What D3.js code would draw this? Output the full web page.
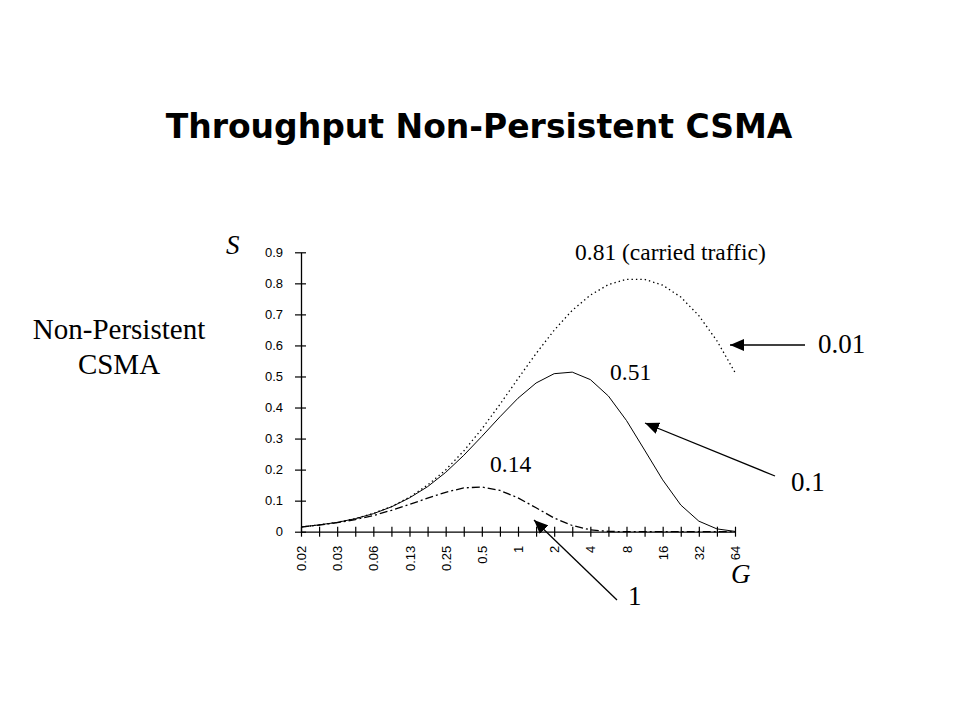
<!DOCTYPE html>
<html>
<head>
<meta charset="utf-8">
<script src="https://cdn.jsdelivr.net/npm/d3@7"></script>
<style>
  html, body { margin: 0; padding: 0; background: #fff; }
  svg { display: block; }
</style>
</head>
<body>
<svg id="chart" width="960" height="720"></svg>
<script>
// ---- Data ----
const offeredLoad = [0.0156, 0.0221, 0.0313, 0.0442, 0.0625, 0.0884, 0.125, 0.177, 0.25, 0.354, 0.5, 0.707, 1, 1.41, 2, 2.83, 4, 5.66, 8, 11.3, 16, 22.6, 32, 45.3, 64];
const tickLabels = ["0.02", "", "0.03", "", "0.06", "", "0.13", "", "0.25", "", "0.5", "", "1", "", "2", "", "4", "", "8", "", "16", "", "32", "", "64"];
const yTicks = [0, 0.1, 0.2, 0.3, 0.4, 0.5, 0.6, 0.7, 0.8, 0.9];

const sA001 = [0.015, 0.022, 0.030, 0.042, 0.059, 0.081, 0.111, 0.150, 0.199, 0.260, 0.331, 0.410, 0.493, 0.574, 0.649, 0.713, 0.762, 0.796, 0.813, 0.813, 0.794, 0.756, 0.696, 0.615, 0.513];
const sA01  = [0.015, 0.022, 0.030, 0.042, 0.058, 0.080, 0.109, 0.145, 0.191, 0.246, 0.307, 0.370, 0.430, 0.479, 0.509, 0.514, 0.490, 0.437, 0.358, 0.263, 0.167, 0.086, 0.034, 0.009, 0.001];
const sA1   = [0.015, 0.021, 0.029, 0.039, 0.052, 0.069, 0.088, 0.108, 0.127, 0.141, 0.144, 0.133, 0.109, 0.077, 0.044, 0.020, 0.006, 0.001, 0, 0, 0, 0, 0, 0, 0];

const seriesNames = ["0.01", "0.1", "1"];
const peakLabels = ["0.81 (carried traffic)", "0.51", "0.14"];

// ---- Drawing ----
const svg = d3.select("#chart");
svg.append("rect").attr("width", 960).attr("height", 720).attr("fill", "#fff");

const x = d3.scalePoint().domain(d3.range(offeredLoad.length)).range([301, 735]);
const y = d3.scaleLinear().domain([0, 0.9]).range([531.7, 252.3]);

// Title
svg.append("text")
  .attr("x", 479).attr("y", 138)
  .attr("text-anchor", "middle")
  .attr("font-family", "DejaVu Sans, Verdana, sans-serif")
  .attr("font-weight", "bold")
  .attr("font-size", 33)
  .text("Throughput Non-Persistent CSMA");

// Y axis
const yAxis = d3.axisLeft(y).tickValues(yTicks).tickSizeInner(6).tickSizeOuter(0).tickPadding(12)
  .tickFormat(d => d === 0 ? "0" : d3.format(".1f")(d));
const gy = svg.append("g").attr("transform", "translate(301,0)").call(yAxis);
gy.select(".domain").attr("stroke", "#000").attr("stroke-width", 1.3);
gy.selectAll(".tick line").attr("x1", -6).attr("x2", 5).attr("stroke", "#000").attr("stroke-width", 1.2);
gy.selectAll(".tick text")
  .attr("font-family", "Liberation Sans, Arial, sans-serif")
  .attr("font-size", 13).attr("fill", "#000")
  .attr("x", -18);

// X axis
const xAxis = d3.axisBottom(x).tickSizeInner(5).tickSizeOuter(0)
  .tickFormat(i => tickLabels[i]);
const gx = svg.append("g").attr("transform", `translate(0,${y(0)})`).call(xAxis);
gx.select(".domain").attr("stroke", "#000").attr("stroke-width", 1.3);
gx.selectAll(".tick line").attr("y1", -5).attr("y2", 5).attr("stroke", "#000").attr("stroke-width", 1.2);
gx.selectAll(".tick text")
  .attr("font-family", "Liberation Sans, Arial, sans-serif")
  .attr("font-size", 13).attr("fill", "#000")
  .attr("transform", "rotate(-90)")
  .attr("text-anchor", "end")
  .attr("dy", "0.35em")
  .attr("x", -14).attr("y", 0);

// Lines
const line = d3.line().x((d, i) => x(i)).y(d => y(d));
const allSeries = [sA001, sA01, sA1];
const dashes = ["1.4,3", null, "8,3,2,3"];
allSeries.forEach((s, k) => {
  svg.append("path")
    .datum(s)
    .attr("d", line)
    .attr("fill", "none")
    .attr("stroke", "#000")
    .attr("stroke-width", k === 1 ? 1 : 1.3)
    .attr("stroke-dasharray", dashes[k]);
});

// Axis titles
svg.append("text").attr("x", 226).attr("y", 254)
  .attr("font-family", "Liberation Serif, Times New Roman, serif")
  .attr("font-style", "italic").attr("font-size", 27).text("S");
svg.append("text").attr("x", 731).attr("y", 583)
  .attr("font-family", "Liberation Serif, Times New Roman, serif")
  .attr("font-style", "italic").attr("font-size", 27).text("G");

// Side label
const side = svg.append("text")
  .attr("font-family", "Liberation Serif, Times New Roman, serif")
  .attr("font-size", 29).attr("text-anchor", "middle");
side.append("tspan").attr("x", 119).attr("y", 339).text("Non-Persistent");
side.append("tspan").attr("x", 119).attr("y", 374).text("CSMA");

// Peak labels
const serif = "Liberation Serif, Times New Roman, serif";
const peakPos = [[575, 260], [610, 380], [490, 472]];
peakLabels.forEach((t, k) => {
  svg.append("text").attr("x", peakPos[k][0]).attr("y", peakPos[k][1])
    .attr("font-family", serif).attr("font-size", 23.5).text(t);
});

// Series-name labels with arrows
const defs = svg.append("defs");
defs.append("marker")
  .attr("id", "ah").attr("markerUnits", "userSpaceOnUse")
  .attr("viewBox", "0 0 14 12").attr("refX", 14).attr("refY", 6)
  .attr("markerWidth", 14).attr("markerHeight", 12)
  .attr("orient", "auto")
  .append("path").attr("d", "M0,0 L14,6 L0,12 Z").attr("fill", "#000");

const namePos = [[818, 353], [791, 491], [628, 605]];
const arrowLines = [[805, 345, 730, 345], [775, 476, 645, 423], [617, 600, 534, 520]];
seriesNames.forEach((t, k) => {
  svg.append("text").attr("x", namePos[k][0]).attr("y", namePos[k][1])
    .attr("font-family", serif).attr("font-size", 27).text(t);
  const a = arrowLines[k];
  svg.append("line").attr("x1", a[0]).attr("y1", a[1]).attr("x2", a[2]).attr("y2", a[3])
    .attr("stroke", "#000").attr("stroke-width", 1.3)
    .attr("marker-end", "url(#ah)");
});
</script>
</body>
</html>
